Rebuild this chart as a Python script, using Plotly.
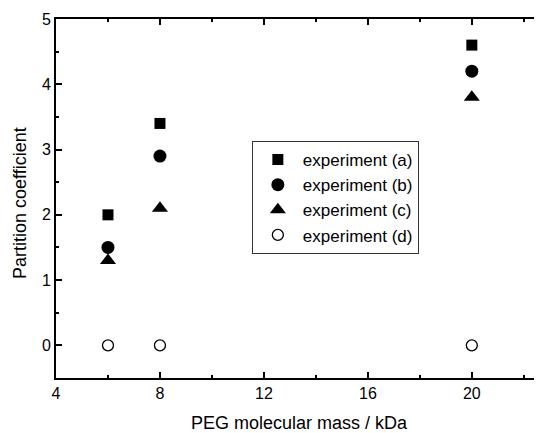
import plotly.graph_objects as go

x_mass = [6, 8, 20]
exp_a = [2.0, 3.4, 4.6]
exp_b = [1.5, 2.9, 4.2]
exp_c = [1.3, 2.1, 3.8]
exp_d = [0.0, 0.0, 0.0]
names = ["experiment (a)", "experiment (b)", "experiment (c)", "experiment (d)"]
x_title = "PEG molecular mass / kDa"
y_title = "Partition coefficient"

FONT = "Liberation Sans, Arial, sans-serif"

fig = go.Figure()
fig.add_trace(go.Scatter(x=x_mass, y=exp_a, mode="markers", name=names[0],
                         marker=dict(symbol="square", size=11, color="black")))
fig.add_trace(go.Scatter(x=x_mass, y=exp_b, mode="markers", name=names[1],
                         marker=dict(symbol="circle", size=13, color="black")))
fig.add_trace(go.Scatter(x=x_mass, y=exp_c, mode="markers", name=names[2],
                         marker=dict(symbol="triangle-up", size=14, color="black")))
fig.add_trace(go.Scatter(x=x_mass, y=exp_d, mode="markers", name=names[3],
                         marker=dict(symbol="circle-open", size=11, color="black",
                                     line=dict(width=1.3, color="black"))))

axis_common = dict(showline=True, linecolor="black", linewidth=2, mirror="ticks",
                   ticks="inside", ticklen=6, tickwidth=1.5, tickcolor="black",
                   showgrid=False, zeroline=False, automargin=False,
                   tickfont=dict(family=FONT, size=16, color="black"),
                   title_font=dict(family=FONT, size=18, color="black"))

# page body has an 8px margin, so the figure is sized/offset to compensate
fig.update_layout(
    width=534, height=425,
    margin=dict(l=48, r=0, t=11, b=55),
    paper_bgcolor="white", plot_bgcolor="white",
    showlegend=True,
    legend=dict(x=0.403, y=0.66, xanchor="left", yanchor="top",
                bordercolor="#333333", borderwidth=1, bgcolor="white",
                font=dict(family=FONT, size=17, color="black"),
                itemwidth=40, tracegroupgap=0),
    xaxis=dict(range=[4, 22.7], tickvals=[4, 8, 12, 16, 20],
               minor=dict(ticks="inside", ticklen=3, tickvals=[6, 10, 14, 18, 22], tickcolor="black"),
               title=dict(text=x_title, standoff=20),
               **axis_common),
    yaxis=dict(range=[-0.5, 5], tickvals=[0, 1, 2, 3, 4, 5],
               minor=dict(ticks="inside", ticklen=3, tickvals=[0.5, 1.5, 2.5, 3.5, 4.5], tickcolor="black"),
               **axis_common),
    annotations=[dict(text=y_title, textangle=-90, xref="paper", yref="paper",
                      x=-0.074, y=0.4875, xanchor="center", yanchor="middle",
                      showarrow=False, font=dict(family=FONT, size=18, color="black"))],
)

fig.write_html("out.html")
